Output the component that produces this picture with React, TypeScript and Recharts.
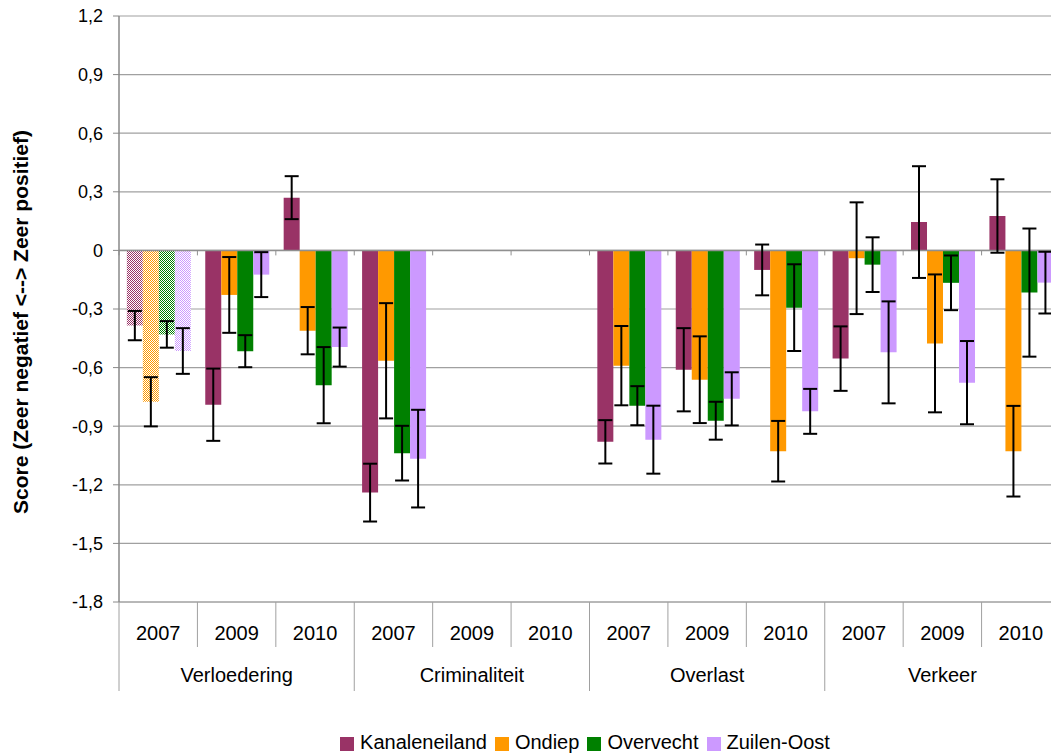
import React from 'react';
import { BarChart, Bar, XAxis, YAxis, CartesianGrid, ErrorBar, Cell, Legend, ReferenceLine } from 'recharts';

// ---------- data ----------
const years = ['2007', '2009', '2010', '2007', '2009', '2010', '2007', '2009', '2010', '2007', '2009', '2010'];
const groups = ['Verloedering', 'Criminaliteit', 'Overlast', 'Verkeer'];
const seriesNames = ['Kanaleneiland', 'Ondiep', 'Overvecht', 'Zuilen-Oost'];
const yTicks = [-1.8, -1.5, -1.2, -0.9, -0.6, -0.3, 0, 0.3, 0.6, 0.9, 1.2];

const kanaleneiland = [-0.385, -0.79, 0.27, -1.24, null, null, -0.98, -0.611, -0.1, -0.554, 0.145, 0.176];
const kanaleneilandErr = [0.075, 0.185, 0.11, 0.148, null, null, 0.111, 0.213, 0.13, 0.165, 0.286, 0.188];
const ondiep = [-0.775, -0.228, -0.411, -0.565, null, null, -0.59, -0.662, -1.028, -0.04, -0.476, -1.028];
const ondiepErr = [0.126, 0.194, 0.121, 0.295, null, null, 0.203, 0.222, 0.155, 0.286, 0.353, 0.232];
const overvecht = [-0.43, -0.516, -0.69, -1.038, null, null, -0.795, -0.872, -0.293, -0.073, -0.166, -0.216];
const overvechtErr = [0.068, 0.082, 0.195, 0.14, null, null, 0.1, 0.097, 0.222, 0.14, 0.14, 0.328];
const zuilenOost = [-0.515, -0.124, -0.495, -1.066, null, null, -0.969, -0.76, -0.824, -0.522, -0.677, -0.165];
const zuilenOostErr = [0.117, 0.115, 0.1, 0.25, null, null, 0.174, 0.136, 0.115, 0.261, 0.213, 0.158];

// category whose bars are drawn with a dithered fill
const hatchedCategory = 0;

const seriesValues = [kanaleneiland, ondiep, overvecht, zuilenOost];
const seriesErrors = [kanaleneilandErr, ondiepErr, overvechtErr, zuilenOostErr];
const colors = ['#993366', '#FF9900', '#008000', '#CC99FF'];
const keys = ['k', 'o', 'v', 'z'];

const data = years.map((year, i) => {
  const row: any = { idx: String(i), year };
  keys.forEach((k, s) => {
    row[k] = seriesValues[s][i];
    row[k + 'Err'] = seriesErrors[s][i];
  });
  return row;
});

// ---------- layout ----------
const CHART_W = 1070;
const CHART_H = 754;
const MARGIN = { top: 16, right: 10, bottom: 0, left: 0 };
const Y_W = 119;
const LEGEND_H = 24;
const X_H = 128;
const PLOT_W = CHART_W - MARGIN.right - MARGIN.left - Y_W;
const BAND = PLOT_W / years.length;
const FONT = '"Liberation Sans", Arial, sans-serif';
const GRID = '#a0a0a0';

const fmt = (v: number) => (v === 0 ? '0' : v.toFixed(1).replace('.', ','));

const XTick = (props: any) => {
  const { x, y, payload } = props;
  const i = Number(payload.value);
  const left = x - BAND / 2;
  const groupStart = i % 3 === 0;
  return (
    <g>
      <line x1={left} y1={y} x2={left} y2={y + (groupStart ? 89 : 45)} stroke={GRID} strokeWidth={1} />
      <text x={x} y={y + 38} textAnchor="middle" fontSize={20} fontFamily={FONT} fill="#000">
        {years[i]}
      </text>
      {i % 3 === 1 && (
        <text x={x} y={y + 80} textAnchor="middle" fontSize={20} fontFamily={FONT} fill="#000">
          {groups[Math.floor(i / 3)]}
        </text>
      )}
    </g>
  );
};

const ZeroAxis = (props: any) => {
  const { x1, y1, x2 } = props;
  const step = (x2 - x1) / years.length;
  return (
    <g>
      <line x1={x1} y1={y1} x2={x2} y2={y1} stroke="#909090" strokeWidth={1.5} />
      {years.map((_, i) => (
        <line key={i} x1={x1 + i * step} y1={y1} x2={x1 + i * step} y2={y1 + 5} stroke="#909090" strokeWidth={1} />
      ))}
    </g>
  );
};

const YLabel = (props: any) => {
  const vb = props.viewBox || { x: 0, y: MARGIN.top, height: 586 };
  const cx = vb.x + 28;
  const cy = vb.y + vb.height / 2 + 13;
  return (
    <text
      x={cx}
      y={cy}
      transform={`rotate(-90 ${cx} ${cy})`}
      textAnchor="middle"
      fontSize={21}
      fontWeight="bold"
      fontFamily={FONT}
      fill="#000"
    >
      Score (Zeer negatief &lt;--&gt; Zeer positief)
    </text>
  );
};

const LegendContent = () => (
  <div
    style={{
      display: 'flex',
      justifyContent: 'center',
      alignItems: 'center',
      height: LEGEND_H,
      fontFamily: FONT,
      fontSize: 20,
      color: '#000',
    }}
  >
    {seriesNames.map((n, i) => (
      <div key={n} style={{ display: 'flex', alignItems: 'center', marginRight: i < seriesNames.length - 1 ? 8 : 0 }}>
        <span style={{ width: 14, height: 14, background: colors[i], display: 'inline-block', marginRight: 6, marginTop: 3 }} />
        <span>{n}</span>
      </div>
    ))}
  </div>
);

export default function App() {
  return (
    <div style={{ position: 'absolute', left: 0, top: 0, width: 1051, height: 754, overflow: 'hidden', background: '#fff' }}>
      <BarChart
        width={CHART_W}
        height={CHART_H}
        data={data}
        margin={MARGIN}
        barCategoryGap="10%"
        barGap={0}
      >
        <defs>
          {colors.map((c, i) => (
            <pattern key={i} id={`dither${i}`} width={2} height={2} patternUnits="userSpaceOnUse">
              <rect x={0} y={0} width={2} height={2} fill="#ffffff" />
              <rect x={0} y={0} width={1} height={1} fill={c} />
              <rect x={1} y={1} width={1} height={1} fill={c} />
            </pattern>
          ))}
        </defs>
        <CartesianGrid horizontal vertical={false} stroke={GRID} strokeWidth={1.2} />
        <XAxis
          dataKey="idx"
          interval={0}
          height={X_H}
          tickLine={false}
          tickSize={0}
          tickMargin={0}
          axisLine={{ stroke: GRID }}
          tick={<XTick />}
        />
        <YAxis
          width={Y_W}
          domain={[-1.8, 1.2]}
          ticks={yTicks}
          interval={0}
          tickFormatter={fmt}
          axisLine={{ stroke: '#888', strokeWidth: 1.5 }}
          tickLine={{ stroke: '#888' }}
          tickSize={6}
          tickMargin={10}
          tick={{ fontSize: 18, fill: '#000', fontFamily: FONT }}
          label={YLabel}
          allowDataOverflow
        />
        <ReferenceLine y={0} shape={ZeroAxis} />
        {keys.map((k, s) => (
          <Bar key={k} dataKey={k} name={seriesNames[s]} fill={colors[s]} isAnimationActive={false}>
            {data.map((_, i) => (
              <Cell key={i} fill={i === hatchedCategory ? `url(#dither${s})` : colors[s]} />
            ))}
            <ErrorBar dataKey={k + 'Err'} width={7} strokeWidth={2} stroke="#000" direction="y" isAnimationActive={false} />
          </Bar>
        ))}
        <Legend
          verticalAlign="bottom"
          height={LEGEND_H}
          content={LegendContent}
          wrapperStyle={{ left: Y_W, width: 932, bottom: 0 }}
        />
      </BarChart>
    </div>
  );
}
